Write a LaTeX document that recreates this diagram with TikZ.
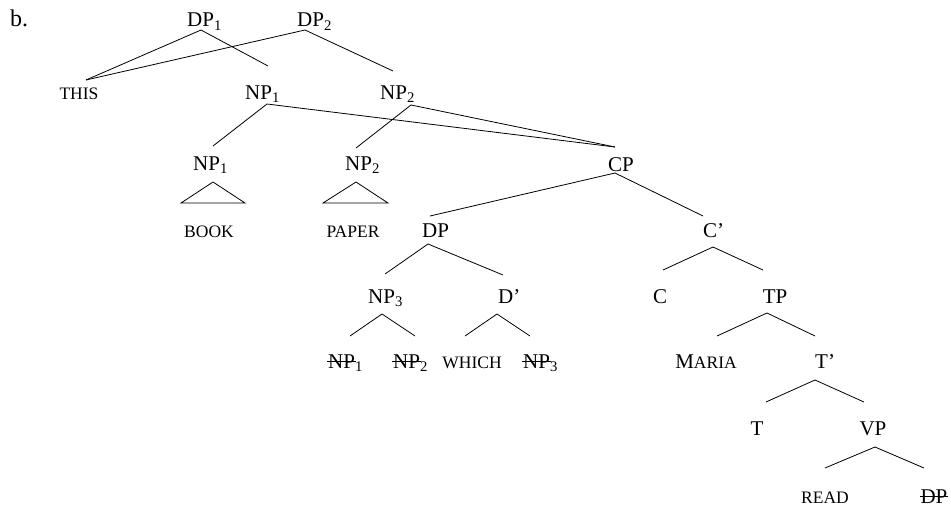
\documentclass[tikz,border=0pt]{standalone}
\usepackage{fontspec}
\setmainfont{Liberation Serif}
\newsavebox\stkbox
\newcommand{\strk}[1]{\sbox\stkbox{#1}\rlap{\kern-1pt\rule[0.3em]{\dimexpr\wd\stkbox+2pt\relax}{1pt}}\usebox\stkbox}
\newcommand{\sbs}[1]{\textsubscript{#1}}
\newcommand{\smc}[1]{{\fontsize{17.5}{18}\selectfont #1}}
\begin{document}
\begin{tikzpicture}[x=1pt,y=-1pt,
  lab/.style={inner sep=0pt, anchor=base west, font=\fontsize{21}{22}\selectfont},
  labc/.style={inner sep=0pt, anchor=base, font=\fontsize{21}{22}\selectfont},
  lf/.style={inner sep=0pt, anchor=base, font=\fontsize{17.5}{18}\selectfont},
  br/.style={line width=0.8pt}]
\useasboundingbox (0,0) rectangle (951,506);
% labels
\node[lab, font=\fontsize{24}{24}\selectfont] (b) at (10,27) {b.};
\node[lab] (dp1) at (187,27) {DP\sbs{1}};
\node[lab] (dp2) at (297,27) {DP\sbs{2}};
\node[lf] (this) at (79,99) {THIS};
\node[lab] (np1u) at (245,99) {NP\sbs{1}};
\node[lab] (np2u) at (380,99) {NP\sbs{2}};
\node[lab] (np1l) at (193,170) {NP\sbs{1}};
\node[lab] (np2l) at (345,170) {NP\sbs{2}};
\node[lab] (cp) at (608,171) {CP};
\node[lf] (book) at (209,237) {BOOK};
\node[lf] (paper) at (353,237) {PAPER};
\node[lab] (dp) at (422,237) {DP};
\node[lab] (cbar) at (703,237) {C’};
\node[lab] (np3) at (368,303) {NP\sbs{3}};
\node[lab] (dbar) at (498,303) {D’};
\node[labc] (c) at (660,303) {C};
\node[labc] (tp) at (775,303) {TP};
\node[lab] (s1) at (328,368) {\strk{NP}\sbs{1}};
\node[lab] (s2) at (393,368) {\strk{NP}\sbs{2}};
\node[lf] (which) at (472,368) {WHICH};
\node[lab] (s3) at (523,368) {\strk{NP}\sbs{3}};
\node[labc] (maria) at (706,368) {M\smc{ARIA}};
\node[lab] (tbar) at (815,368) {T’};
\node[labc] (t) at (757,435) {T};
\node[labc] (vp) at (873,435) {VP};
\node[lf] (read) at (825,503) {READ};
\node[labc] (sdp) at (934,503) {\strk{DP}};
% connector end points
\coordinate (dp1b) at (201,30);
\coordinate (dp2b) at (305,30);
\coordinate (thist) at (86,80);
\coordinate (np1e) at (268,66);
\coordinate (np2e) at (393,71);
\coordinate (np1ub) at (267,104);
\coordinate (np2ub) at (411,105);
\coordinate (np1lt) at (213,146);
\coordinate (np2lt) at (356,148);
\coordinate (cpt) at (615,147);
\coordinate (np1la) at (213,182);
\coordinate (np1ll) at (181,203);
\coordinate (np1lr) at (245,203);
\coordinate (np2la) at (356,182);
\coordinate (np2ll) at (323,203);
\coordinate (np2lr) at (388,203);
\coordinate (cpb) at (615,173);
\coordinate (dpt) at (430,216);
\coordinate (cbart) at (703,216);
\coordinate (dpb) at (428,244);
\coordinate (np3t) at (385,274);
\coordinate (dbart) at (503,275);
\coordinate (cbarb) at (713,247);
\coordinate (ct) at (663,270);
\coordinate (tpt) at (763,270);
\coordinate (np3b) at (382,314);
\coordinate (s1t) at (350,336);
\coordinate (s2t) at (415,336);
\coordinate (dbarb) at (497,314);
\coordinate (whicht) at (465,336);
\coordinate (s3t) at (530,336);
\coordinate (tpb) at (767,313);
\coordinate (mariat) at (717,336);
\coordinate (tbart) at (815,336);
\coordinate (tbarb) at (815,380);
\coordinate (tt) at (766,402);
\coordinate (vpt) at (864,402);
\coordinate (vpb) at (875,447);
\coordinate (readt) at (825,468);
\coordinate (sdpt) at (924,468);
% branches
\draw[br] (thist) -- (dp1b) -- (np1e);
\draw[br] (thist) -- (dp2b) -- (np2e);
\draw[br] (np1lt) -- (np1ub) -- (cpt);
\draw[br] (np2lt) -- (np2ub) -- (cpt);
\draw[br] (np1la) -- (np1ll) -- (np1lr) -- cycle;
\draw[br] (np2la) -- (np2ll) -- (np2lr) -- cycle;
\draw[br] (dpt) -- (cpb) -- (cbart);
\draw[br] (np3t) -- (dpb) -- (dbart);
\draw[br] (ct) -- (cbarb) -- (tpt);
\draw[br] (s1t) -- (np3b) -- (s2t);
\draw[br] (whicht) -- (dbarb) -- (s3t);
\draw[br] (mariat) -- (tpb) -- (tbart);
\draw[br] (tt) -- (tbarb) -- (vpt);
\draw[br] (readt) -- (vpb) -- (sdpt);
\end{tikzpicture}
\end{document}
